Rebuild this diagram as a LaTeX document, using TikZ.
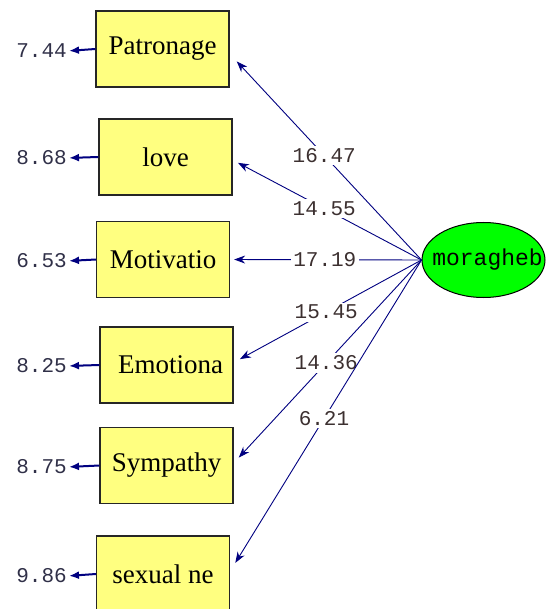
\documentclass[tikz,border=0pt]{standalone}
\usepackage{fontspec}
\setmainfont{Liberation Serif}
\newfontfamily\numfont{Liberation Mono}
\usetikzlibrary{arrows.meta,shapes.geometric}

\definecolor{pathblue}{RGB}{0,0,128}
\definecolor{boxfill}{RGB}{255,255,128}
\definecolor{latfill}{RGB}{0,255,0}
\definecolor{coefcol}{RGB}{60,48,48}
\definecolor{errcol}{RGB}{48,48,72}

\tikzset{
  obsbox/.style={draw=black!85, line width=1.3pt, fill=boxfill, minimum width=133pt,
    minimum height=76pt, inner sep=0pt, font=\fontsize{27}{30}\selectfont},
  latent/.style={ellipse, draw=black, line width=1pt, fill=latfill, minimum width=123pt,
    minimum height=75pt, inner sep=0pt, font=\numfont\fontsize{23}{25}\selectfont},
  errval/.style={anchor=east, inner sep=0pt, text=errcol, font=\numfont\fontsize{21}{24}\selectfont},
  coef/.style={fill=white, inner sep=2.5pt, text=coefcol, font=\numfont\fontsize{21}{24}\selectfont},
  loading/.style={draw=pathblue, line width=0.9pt, shorten >=6pt,
    -{Stealth[length=11pt,width=8pt]}},
  errarrow/.style={draw=pathblue, line width=2pt, shorten >=2pt,
    -{Latex[length=10pt,width=8pt]}}
}

\begin{document}
\begin{tikzpicture}[x=1pt,y=-1pt]
  \useasboundingbox (0,0) rectangle (546,609);

  % observed indicators
  \node[obsbox] (pat) at (162.5,49)   {Patronage};
  \node[obsbox] (lov) at (165.5,157)  {love};
  \node[obsbox] (mot) at (163,259.5)  {Motivatio};
  \node[obsbox] (emo) at (166.5,365)  {\hspace{8pt}Emotiona};
  \node[obsbox] (sym) at (166.5,465.5){Sympathy};
  \node[obsbox] (sex) at (163,574)    {sexual ne};

  % latent factor (label kept from widening the ellipse)
  \node[latent] (lat) at (483.5,260) {\makebox[0pt][c]{\hspace{8pt}moragheb}};

  % error variances
  \node[errval] (e1) at (67,51)    {7.44};
  \node[errval] (e2) at (67,158)   {8.68};
  \node[errval] (e3) at (67,261)   {6.53};
  \node[errval] (e4) at (67,366)   {8.25};
  \node[errval] (e5) at (67,467)   {8.75};
  \node[errval] (e6) at (67,576)   {9.86};

  \draw[errarrow] (pat.west) -- (e1.east);
  \draw[errarrow] (lov.west) -- (e2.east);
  \draw[errarrow] (mot.west) -- (e3.east);
  \draw[errarrow] (emo.west) -- (e4.east);
  \draw[errarrow] (sym.west) -- (e5.east);
  \draw[errarrow] (sex.west) -- (e6.east);

  % factor loadings
  \draw[loading] (lat.west) -- node[coef, pos=0.515] {16.47} ([xshift=3pt,yshift=-8pt]pat.east);
  \draw[loading] (lat.west) -- node[coef, pos=0.515] {14.55} ([yshift=-3pt]lov.east);
  \draw[loading] (lat.west) -- node[coef, pos=0.50]  {17.19} ([xshift=-2pt]mot.east);
  \draw[loading] (lat.west) -- node[coef, pos=0.51]  {15.45} ([xshift=1pt,yshift=3pt]emo.east);
  \draw[loading] (lat.west) -- node[coef, pos=0.51]  {14.36} ([xshift=1pt,yshift=3.5pt]sym.east);
  \draw[loading] (lat.west) -- node[coef, pos=0.515] {6.21}  ([xshift=2pt,yshift=6pt]sex.east);
\end{tikzpicture}
\end{document}
